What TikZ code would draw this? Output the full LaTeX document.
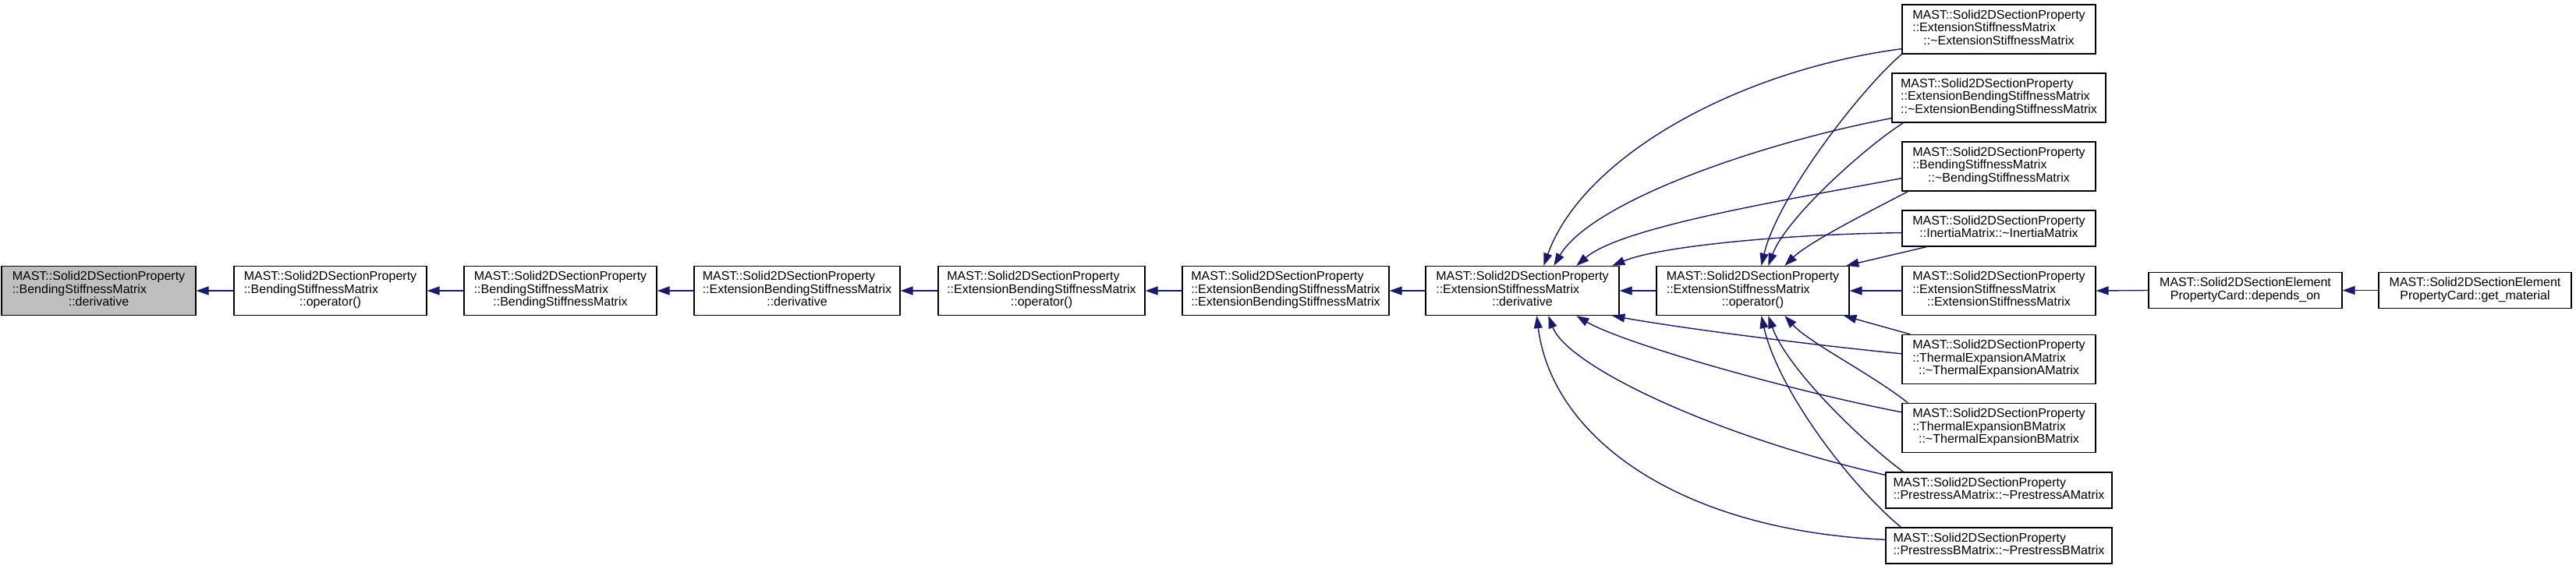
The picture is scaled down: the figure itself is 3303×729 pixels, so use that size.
\documentclass[tikz,border=0pt]{standalone}
\usepackage{fontspec}
\setmainfont{Liberation Sans}
\usetikzlibrary{arrows.meta}
\definecolor{edgeblue}{HTML}{191970}
\definecolor{nodegray}{HTML}{BFBFBF}
\newcommand\threel[3]{\begin{tabular}{@{}l@{}}#1\\#2\\\multicolumn{1}{@{}c@{}}{#3}\end{tabular}}
\newcommand\twolc[2]{\begin{tabular}{@{}l@{}}#1\\\multicolumn{1}{@{}c@{}}{#2}\end{tabular}}
\newcommand\twocc[2]{\begin{tabular}{@{}c@{}}#1\\#2\end{tabular}}
\newcommand\msp{MAST::Solid2DSectionProperty}
\newcommand\tld{\textasciitilde}
\begin{document}
\begin{tikzpicture}[x=1pt,y=-1pt,
  box/.style={draw=black, line width=1.3pt, fill=white, inner sep=0pt,
    font=\fontsize{16}{16.6}\selectfont, anchor=center},
  tall/.style={minimum height=63pt},
  short/.style={minimum height=46pt},
  e/.style={draw=edgeblue, line width=1.4pt, -{Triangle[length=16pt,width=11pt]}}]
\useasboundingbox[fill=white] (0,0) rectangle (3303,729);

% main row
\node[box, tall, fill=nodegray, minimum width=249pt] (n1) at (126.5,373) {\threel{\msp}{::BendingStiffnessMatrix}{::derivative}};
\node[box, tall, minimum width=247pt] (n2) at (423.5,373) {\threel{\msp}{::BendingStiffnessMatrix}{::operator()}};
\node[box, tall, minimum width=247pt] (n3) at (718.5,373) {\threel{\msp}{::BendingStiffnessMatrix}{::BendingStiffnessMatrix}};
\node[box, tall, minimum width=264pt] (n4) at (1022,373) {\threel{\msp}{::ExtensionBendingStiffnessMatrix}{::derivative}};
\node[box, tall, minimum width=265pt] (n5) at (1335.5,373) {\threel{\msp}{::ExtensionBendingStiffnessMatrix}{::operator()}};
\node[box, tall, minimum width=265pt] (n6) at (1648.5,373) {\threel{\msp}{::ExtensionBendingStiffnessMatrix}{::ExtensionBendingStiffnessMatrix}};
\node[box, tall, minimum width=248pt] (n7) at (1952,373) {\threel{\msp}{::ExtensionStiffnessMatrix}{::derivative}};
\node[box, tall, minimum width=247pt] (n8) at (2247.5,373) {\threel{\msp}{::ExtensionStiffnessMatrix}{::operator()}};
\node[box, tall, minimum width=248pt] (esc) at (2563,373) {\threel{\msp}{::ExtensionStiffnessMatrix}{::ExtensionStiffnessMatrix}};
\node[box, short, minimum width=248pt] (dep) at (2879,372.5) {\twocc{MAST::Solid2DSectionElement}{PropertyCard::depends\_on}};
\node[box, short, minimum width=247pt] (gm) at (3173.5,372.5) {\twocc{MAST::Solid2DSectionElement}{PropertyCard::get\_material}};

% right column
\node[box, tall, minimum width=248pt] (esd) at (2563,37.5) {\threel{\msp}{::ExtensionStiffnessMatrix}{::\tld ExtensionStiffnessMatrix}};
\node[box, tall, minimum width=274pt] (ebd) at (2563,125.5) {\threel{\msp}{::ExtensionBendingStiffnessMatrix}{::\tld ExtensionBendingStiffnessMatrix}};
\node[box, tall, minimum width=248pt] (bsd) at (2563,213.5) {\threel{\msp}{::BendingStiffnessMatrix}{::\tld BendingStiffnessMatrix}};
\node[box, short, minimum width=248pt] (ine) at (2563,293) {\twolc{\msp}{::InertiaMatrix::\tld InertiaMatrix}};
\node[box, tall, minimum width=248pt] (tha) at (2563,461) {\threel{\msp}{::ThermalExpansionAMatrix}{::\tld ThermalExpansionAMatrix}};
\node[box, tall, minimum width=248pt] (thb) at (2563,549) {\threel{\msp}{::ThermalExpansionBMatrix}{::\tld ThermalExpansionBMatrix}};
\node[box, short, minimum width=290pt] (psa) at (2563,629) {\twolc{\msp}{::PrestressAMatrix::\tld PrestressAMatrix}};
\node[box, short, minimum width=290pt] (psb) at (2563,700) {\twolc{\msp}{::PrestressBMatrix::\tld PrestressBMatrix}};

% main chain
\draw[e] (n2.west) -- (n1.east);
\draw[e] (n3.west) -- (n2.east);
\draw[e] (n4.west) -- (n3.east);
\draw[e] (n5.west) -- (n4.east);
\draw[e] (n6.west) -- (n5.east);
\draw[e] (n7.west) -- (n6.east);
\draw[e] (n8.west) -- (n7.east);
\draw[e] (esc.west) -- (n8.east);
\draw[e] (dep.west) -- (esc.east);
\draw[e] (gm.west) -- (dep.east);

% from above
\draw[e] ([yshift=7pt]esd.south west) .. controls (2230,90) and (2030,200) .. ([xshift=152pt]n7.north west);
\draw[e] (esd.south west) .. controls (2390,110) and (2280,250) .. ([xshift=135pt]n8.north west);
\draw[e] ([yshift=6pt]ebd.south west) .. controls (2250,185) and (2040,260) .. ([xshift=165pt]n7.north west);
\draw[e] ([xshift=15pt]ebd.south west) .. controls (2390,190) and (2290,280) .. ([xshift=144pt]n8.north west);
\draw[e] ([yshift=17pt]bsd.south west) .. controls (2300,255) and (2080,290) .. ([xshift=194pt]n7.north west);
\draw[e] ([xshift=8pt]bsd.south west) .. controls (2400,270) and (2320,310) .. ([xshift=165pt]n8.north west);
\draw[e] ([yshift=18pt]ine.south west) .. controls (2300,300) and (2130,315) .. ([xshift=240pt]n7.north west);
\draw[e] ([xshift=32pt]ine.south west) -- ([xshift=244pt]n8.north west);

% from below
\draw[e] ([yshift=-25pt]tha.north west) .. controls (2300,440) and (2150,420) .. ([xshift=240pt]n7.south west);
\draw[e] ([xshift=11pt]tha.north west) -- ([xshift=241pt]n8.south west);
\draw[e] ([yshift=-12pt]thb.north west) .. controls (2290,500) and (2080,440) .. ([xshift=194pt]n7.south west);
\draw[e] ([xshift=8pt]thb.north west) .. controls (2400,480) and (2320,440) .. ([xshift=165pt]n8.south west);
\draw[e] ([yshift=-4pt]psa.north west) .. controls (2200,560) and (2010,470) .. ([xshift=158pt]n7.south west);
\draw[e] ([xshift=23pt]psa.north west) .. controls (2380,560) and (2290,470) .. ([xshift=144pt]n8.south west);
\draw[e] ([yshift=-16pt]psb.north west) .. controls (2150,680) and (1990,560) .. ([xshift=143pt]n7.south west);
\draw[e] ([xshift=20pt]psb.north west) .. controls (2370,620) and (2280,500) .. ([xshift=135pt]n8.south west);
\end{tikzpicture}
\end{document}
